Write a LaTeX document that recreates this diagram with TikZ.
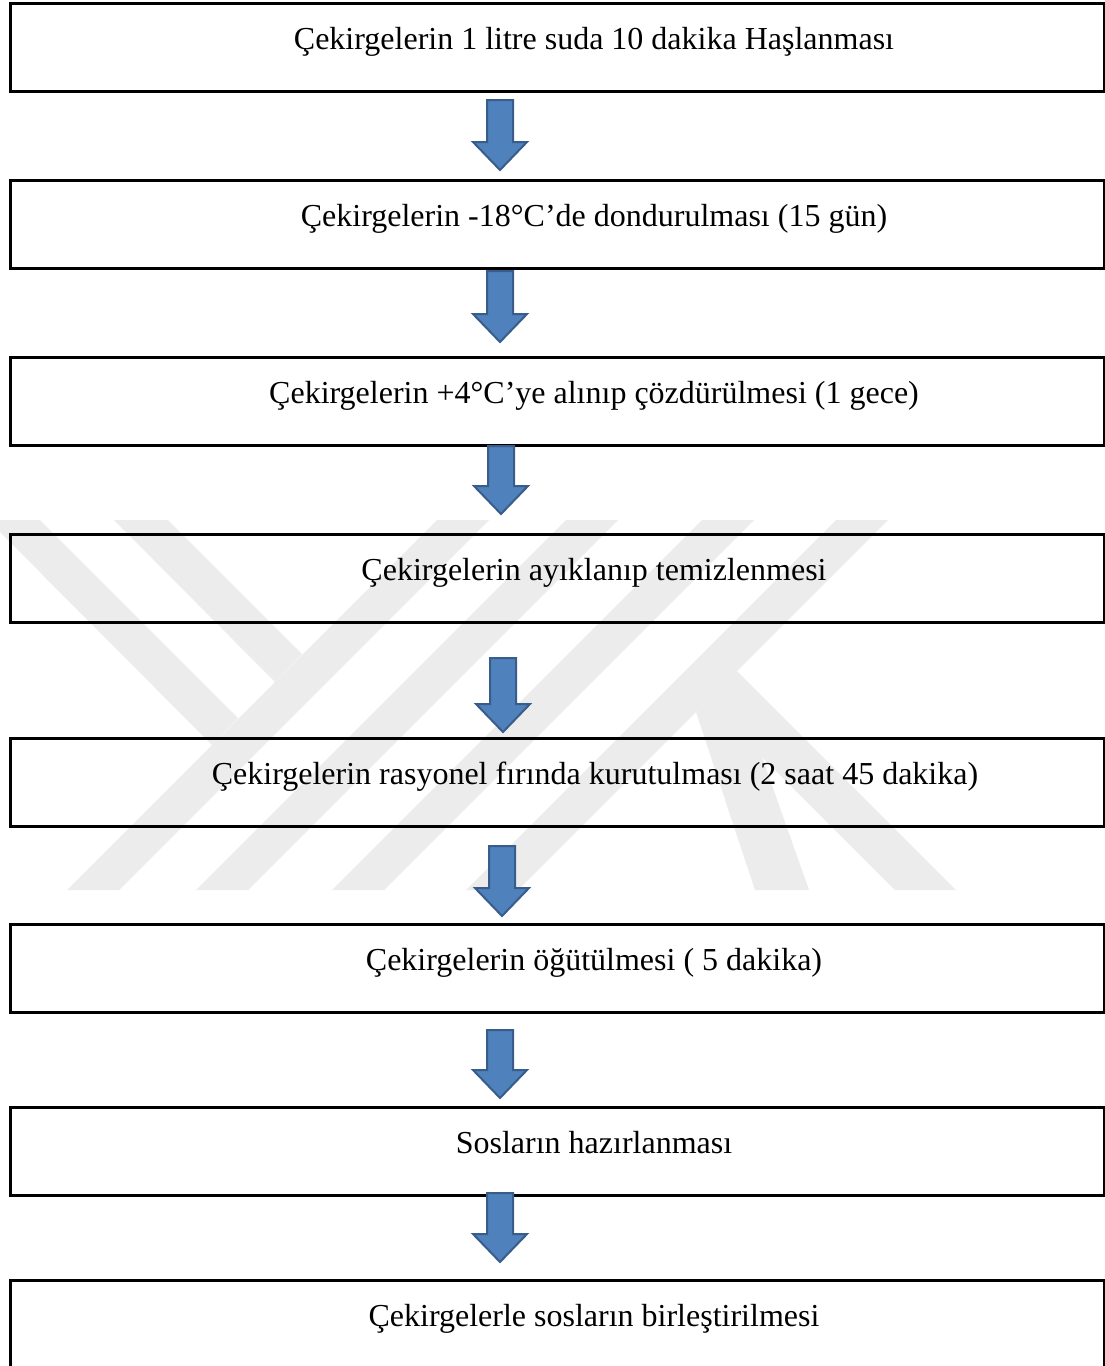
\documentclass[tikz,border=0pt]{standalone}
\usepackage{fontspec}
\setmainfont{Liberation Serif}
\definecolor{wm}{RGB}{236,236,236}
\definecolor{arrfill}{HTML}{4F81BD}
\definecolor{arrline}{HTML}{385D8A}
\begin{document}
\begin{tikzpicture}[x=1pt,y=-1pt,
  stepbox/.style={draw=black, line width=2.6pt, minimum width=1094pt, minimum height=88pt, inner sep=0pt, anchor=north west},
  steptext/.style={anchor=base, font=\fontsize{32}{38}\selectfont, inner sep=0pt},
  wmark/.style={fill=wm, draw=none},
  blk/.style={fill=arrfill, draw=arrline, line width=2pt, line join=miter},
  pics/downarrow/.style={code={\draw[blk] (-13,0) -- (13,0) -- (13,#1-28) -- (27,#1-28) -- (0,#1) -- (-27,#1-28) -- (-13,#1-28) -- cycle;}}
]
\useasboundingbox (0,0) rectangle (1105,1366);
\fill[white] (0,0) rectangle (1105,1366);
% watermark
\fill[wmark] (437,520) -- (489,520) -- (119,890) -- (67,890) -- cycle;
\fill[wmark] (566,520) -- (618,520) -- (248,890) -- (196,890) -- cycle;
\fill[wmark] (702,520) -- (754,520) -- (384,890) -- (332,890) -- cycle;
\fill[wmark] (836,520) -- (888,520) -- (518,890) -- (466,890) -- cycle;
\fill[wmark] (-12,520) -- (40,520) -- (238,718) -- (212,745) -- cycle;
\fill[wmark] (114,520) -- (168,520) -- (302,654) -- (275,682) -- cycle;
\fill[wmark] (696,712) -- (733,675) -- (809,890) -- (755,890) -- cycle;
\fill[wmark] (737,671) -- (956,890) -- (895,890) -- (706,701) -- cycle;
% boxes
\node[stepbox] (b1) at (9,2) {};
\node[stepbox] (b2) at (9,179) {};
\node[stepbox] (b3) at (9,356) {};
\node[stepbox] (b4) at (9,533) {};
\node[stepbox] (b5) at (9,737) {};
\node[stepbox] (b6) at (9,923) {};
\node[stepbox] (b7) at (9,1106) {};
\node[stepbox, minimum height=110pt] (b8) at (9,1279) {};
% texts
\node[steptext] (t1) at (594,49) {Çekirgelerin 1 litre suda 10 dakika Haşlanması};
\node[steptext] (t2) at (594,226) {Çekirgelerin -18°C’de dondurulması (15 gün)};
\node[steptext] (t3) at (594,403) {Çekirgelerin +4°C’ye alınıp çözdürülmesi (1 gece)};
\node[steptext] (t4) at (594,580) {Çekirgelerin ayıklanıp temizlenmesi};
\node[steptext] (t5) at (595,784) {Çekirgelerin rasyonel fırında kurutulması (2 saat 45 dakika)};
\node[steptext] (t6) at (594,970) {Çekirgelerin öğütülmesi ( 5 dakika)};
\node[steptext] (t7) at (594,1153) {Sosların hazırlanması};
\node[steptext] (t8) at (594,1326) {Çekirgelerle sosların birleştirilmesi};
% arrows
\pic (a1) at (500,100) {downarrow=70};
\pic (a2) at (500,271) {downarrow=71};
\pic (a3) at (501,446) {downarrow=68};
\pic (a4) at (503,658) {downarrow=74};
\pic (a5) at (502,846) {downarrow=70};
\pic (a6) at (500,1030) {downarrow=68};
\pic (a7) at (500,1193) {downarrow=69};
\end{tikzpicture}
\end{document}
